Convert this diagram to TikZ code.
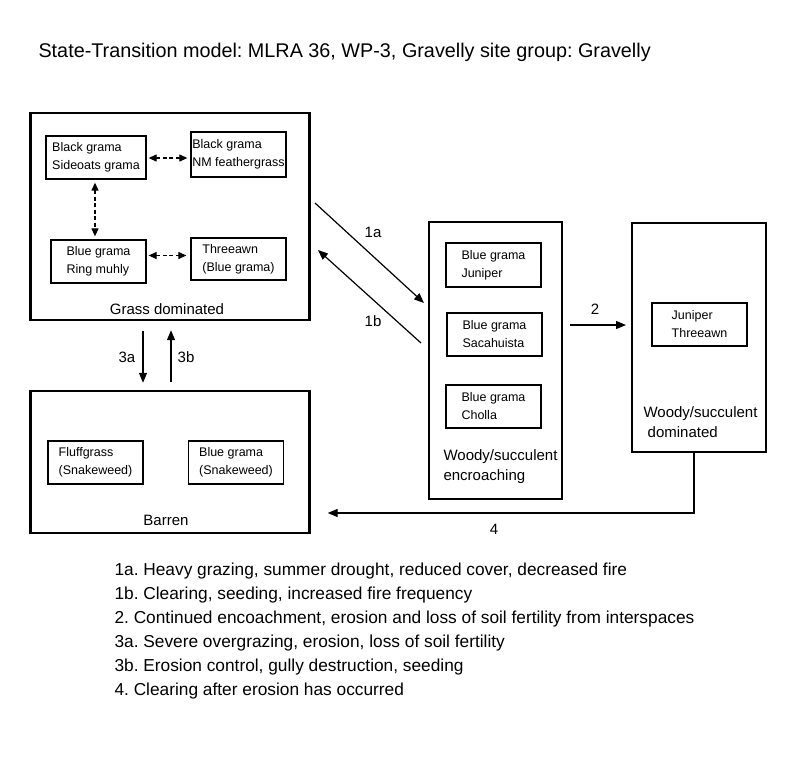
\documentclass[tikz,border=0pt]{standalone}
\usepackage{fontspec}
\setmainfont{Liberation Sans}
\usetikzlibrary{arrows.meta}
\newcommand{\fsz}[2]{\fontsize{#1}{#2}\selectfont}
\frenchspacing

\begin{document}
\begin{tikzpicture}[line cap=butt,line join=miter,x=1pt,y=-1pt,
  >={Triangle[length=10pt,width=8pt]},
  state/.style={draw, line width=2.4pt, inner sep=0pt},
  phase/.style={draw, line width=1.3pt, align=left, inner sep=0pt,
    minimum width=95pt, minimum height=43pt, font=\fsz{12.5}{18}},
  dashlink/.style={line width=1.2pt, dash pattern=on 4pt off 2.5pt,
    {Triangle[length=8pt,width=7pt]}-{Triangle[length=8pt,width=7pt]}},
  trans/.style={line width=1.2pt, ->},
  lbl/.style={font=\fsz{15}{20}},
  num/.style={font=\fsz{15}{17}},
  legend/.style={anchor=west, font=\fsz{17.3}{24}}]
\useasboundingbox (0,0) rectangle (800,756);

% title
\node[anchor=west, font=\fsz{19.8}{22}] (title) at (35,52)
  {State-Transition model: MLRA 36, WP-3, Gravelly site group: Gravelly};

% states
\node[state, minimum width=279pt, minimum height=207pt] (grass) at (170,216.5) {};
\node[state, minimum width=279pt, minimum height=142pt] (barren) at (170,462) {};
\node[state, minimum width=133pt, minimum height=277pt] (encroach) at (495.5,360.5) {};
\node[state, minimum width=134pt, minimum height=229pt] (woody) at (699,337.5) {};

% community phases
\node[phase, minimum width=100pt] (bgsg) at (96,157.5) {Black grama\\Sideoats grama};
\node[phase, minimum height=45pt] (bgnm) at (238.5,154.5) {Black grama\\NM feathergrass};
\node[phase] (bgrm) at (98.5,261.5) {Blue grama\\Ring muhly};
\node[phase, minimum height=42pt] (thbg) at (238.5,259) {Threeawn\\(Blue grama)};
\node[phase, minimum height=44pt] (bgju) at (493.5,265) {Blue grama\\Juniper};
\node[phase] (bgsa) at (494.5,334.5) {Blue grama\\Sacahuista};
\node[phase] (bgch) at (493.5,406.5) {Blue grama\\Cholla};
\node[phase] (jpth) at (699.5,324.5) {Juniper\\Threeawn};
\node[phase] (flsn) at (95.5,462.5) {Fluffgrass\\(Snakeweed)};
\node[phase] (bgsn) at (236,462.5) {Blue grama\\(Snakeweed)};

% state names
\node[lbl] (grasslbl) at (167,309) {Grass dominated};
\node[lbl] (barrenlbl) at (166,520) {Barren};
\node[lbl, anchor=west, align=left] (encrlbl) at (440,467) {Woody/succulent\\encroaching};
\node[lbl, anchor=west, align=left] (woodylbl) at (640,422) {Woody/succulent\\\ dominated};

% shifts between phases
\draw[dashlink, shorten <=2pt, shorten >=3pt] ([yshift=-0.5pt]bgsg.east) -- ([yshift=-0.5pt]bgsg.east -| bgnm.west);
\draw[dashlink, shorten <=3pt, shorten >=3pt] (bgsg.south -| 95,0) -- (bgrm.north -| 95,0);
\draw[dashlink, shorten <=2pt, shorten >=4pt] ([yshift=6pt]bgrm.east) -- ([yshift=6pt]bgrm.east -| thbg.west);

% transitions
\coordinate (t1a) at (315,203);
\coordinate (h1a) at (424,303);
\coordinate (t1b) at (421,343);
\coordinate (h1b) at (318,250);
\coordinate (t2) at (570,325);
\coordinate (h2) at (626,325);
\draw[trans] (t1a) -- (h1a);
\draw[trans] (t1b) -- (h1b);
\draw[trans] (t2) -- (h2);
\draw[trans] ([xshift=-27pt,yshift=-10pt]grass.south) -- ([xshift=-27pt,yshift=7pt]barren.north);
\draw[trans] ([xshift=1pt,yshift=8pt]barren.north) -- ([xshift=1pt,yshift=-9pt]grass.south);
\draw[trans] ([xshift=-5pt]woody.south) |- ([xshift=17pt,yshift=-51pt]barren.east);

\node[num] (l1a) at (373,232) {1a};
\node[num] (l1b) at (373,321) {1b};
\node[num] (l2) at (595,309) {2};
\node[num] (l3a) at (127,357) {3a};
\node[num] (l3b) at (186,357) {3b};
\node[num] (l4) at (494,529) {4};

% key
\node[legend] (k1a) at (111,571) {1a. Heavy grazing, summer drought, reduced cover, decreased fire};
\node[legend] (k1b) at (111,595) {1b. Clearing, seeding, increased fire frequency};
\node[legend] (k2) at (111,619) {2. Continued encoachment, erosion and loss of soil fertility from interspaces};
\node[legend] (k3a) at (111,643) {3a. Severe overgrazing, erosion, loss of soil fertility};
\node[legend] (k3b) at (111,667) {3b. Erosion control, gully destruction, seeding};
\node[legend] (k4) at (111,691) {4. Clearing after erosion has occurred};
\end{tikzpicture}
\end{document}
